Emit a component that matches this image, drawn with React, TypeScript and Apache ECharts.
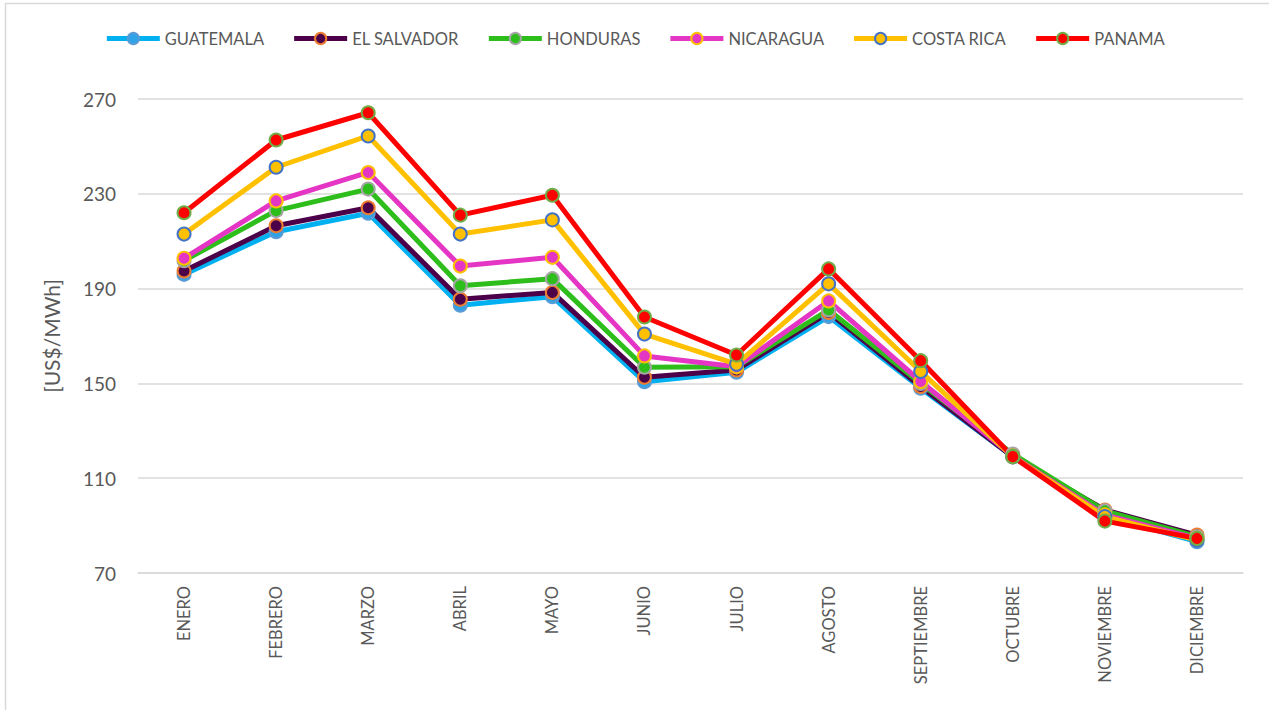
import React, { useEffect, useRef } from "react";
import * as echarts from "echarts";

const months = ["ENERO", "FEBRERO", "MARZO", "ABRIL", "MAYO", "JUNIO", "JULIO", "AGOSTO", "SEPTIEMBRE", "OCTUBRE", "NOVIEMBRE", "DICIEMBRE"];

const guatemala = [196, 214, 221.8, 183, 186.6, 150.7, 154.7, 178.2, 148, 119, 94, 83.2];
const elSalvador = [197.4, 216.5, 224.1, 185.5, 188.4, 152.6, 155.7, 179.9, 148.7, 119, 96.6, 86];
const honduras = [201.8, 222.9, 232, 191.2, 194.2, 156.8, 157, 181, 150, 120.2, 96.2, 85.3];
const nicaragua = [202.8, 227, 239, 199.5, 203.2, 161.6, 157, 184.8, 150.8, 119.3, 94.5, 84.6];
const costaRica = [213, 241.2, 254.4, 213, 219, 170.8, 158.1, 192, 155, 119.1, 93.8, 83.9];
const panama = [222, 252.7, 264.2, 221, 229.4, 178, 162, 198.3, 159.6, 119.1, 91.9, 84.6];

const seriesDefs = [
  { name: "GUATEMALA", data: guatemala, line: "#00B0F0", fill: "#2EA3E8", border: "#5B9BD5" },
  { name: "EL SALVADOR", data: elSalvador, line: "#4B0049", fill: "#4B0049", border: "#ED7D31" },
  { name: "HONDURAS", data: honduras, line: "#2DBE1B", fill: "#2DBE1B", border: "#A5A5A5" },
  { name: "NICARAGUA", data: nicaragua, line: "#E535C4", fill: "#E535C4", border: "#FFC000" },
  { name: "COSTA RICA", data: costaRica, line: "#FFC000", fill: "#FFC000", border: "#4472C4" },
  { name: "PANAMA", data: panama, line: "#FF0000", fill: "#FF0000", border: "#70AD47" },
];

const FONT = "Lato, 'Open Sans', sans-serif";

export default function App() {
  const ref = useRef<HTMLDivElement>(null);
  useEffect(() => {
    if (!ref.current) return;
    const chart = echarts.init(ref.current, null, { renderer: "svg" });
    chart.setOption({
      animation: false,
      backgroundColor: "#ffffff",
      graphic: [
        {
          type: "rect",
          shape: { x: 5.5, y: 3.5, width: 1400, height: 900 },
          style: { fill: "none", stroke: "#D9D9D9", lineWidth: 1.5 },
          silent: true,
        },
      ],
      legend: {
        top: 25,
        left: "center",
        itemWidth: 53,
        itemHeight: 14,
        itemGap: 27.5,
        lineStyle: { width: 5 },
        textStyle: { fontFamily: FONT, fontSize: 16.5, color: "#595959" },
        data: seriesDefs.map((s) => s.name),
      },
      grid: { left: 138, right: 26, top: 99, bottom: 137, containLabel: false },
      xAxis: {
        type: "category",
        data: months,
        boundaryGap: true,
        axisLine: { show: true, lineStyle: { color: "#D9D9D9", width: 1.5 } },
        axisTick: { show: false },
        axisLabel: {
          rotate: 90,
          interval: 0,
          margin: 13,
          fontFamily: FONT,
          fontSize: 16.5,
          color: "#595959",
        },
      },
      yAxis: {
        type: "value",
        min: 70,
        max: 270,
        interval: 40,
        name: "[US$/MWh]",
        nameLocation: "middle",
        nameGap: 76,
        nameTextStyle: { fontFamily: FONT, fontSize: 21, color: "#595959" },
        axisLine: { show: false },
        axisTick: { show: false },
        axisLabel: { fontFamily: FONT, fontSize: 19, color: "#595959", margin: 22 },
        splitLine: { lineStyle: { color: "#D9D9D9", width: 1.5 } },
      },
      series: seriesDefs.map((s) => ({
        name: s.name,
        type: "line",
        data: s.data,
        symbol: "circle",
        symbolSize: 13,
        showAllSymbol: true,
        lineStyle: { color: s.line, width: 5 },
        itemStyle: { color: s.fill, borderColor: s.border, borderWidth: 2 },
        emphasis: { disabled: true },
      })),
    });
    return () => chart.dispose();
  }, []);
  return (
    <div
      ref={ref}
      style={{ position: "fixed", left: 0, top: 0, width: 1269, height: 710, background: "#fff" }}
    />
  );
}
